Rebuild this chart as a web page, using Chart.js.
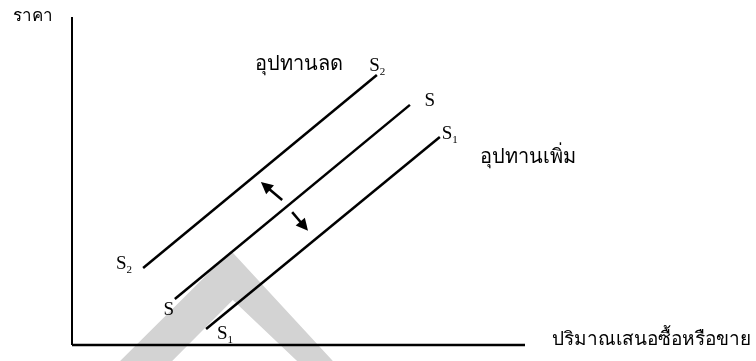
<!DOCTYPE html>
<html>
<head>
<meta charset="utf-8">
<script src="https://cdn.jsdelivr.net/npm/chart.js@4.4.1/dist/chart.umd.min.js"></script>
<style>
  html, body { margin: 0; padding: 0; background: #fff; }
  canvas { display: block; }
</style>
</head>
<body>
<canvas id="supplyChart" width="756" height="361"></canvas>
<script>
// supply curves (quantity, price) in chart units
const supplyDecrease = [{ x: 15.7, y: 23.5 }, { x: 67.3, y: 82.3 }]; // S2
const supplyBase = [{ x: 22.7, y: 14.0 }, { x: 74.6, y: 73.2 }];     // S
const supplyIncrease = [{ x: 29.6, y: 4.9 }, { x: 81.2, y: 63.4 }];  // S1

// axes
const priceAxis = [{ x: 0, y: 0 }, { x: 0, y: 100 }];
const quantityAxis = [{ x: 0, y: 0 }, { x: 100, y: 0 }];

// grey watermark shape behind the curves
const watermark = [
  { x: 10.6, y: -4.9 }, { x: 35.1, y: 28.7 }, { x: 57.6, y: -4.9 },
  { x: 49.7, y: -4.9 }, { x: 35.5, y: 13.7 }, { x: 22.1, y: -4.9 }
];

// shift arrows: [from, to]
const shiftArrows = [
  [{ x: 46.4, y: 44.2 }, { x: 41.7, y: 49.7 }],
  [{ x: 48.6, y: 40.5 }, { x: 52.1, y: 34.8 }]
];

// text labels
const axisTitles = [
  { text: 'ราคา', x: -13, y: 100, size: 17 },
  { text: 'ปริมาณเสนอซื้อหรือขาย', x: 106, y: 1.5, size: 19 }
];
const shiftTitles = [
  { text: 'อุปทานลด', x: 40.4, y: 85.4 },
  { text: 'อุปทานเพิ่ม', x: 90.1, y: 57 }
];
const curveNames = [
  { name: 'S', sub: '2', x: 65.6, y: 85.0 },
  { name: 'S', sub: '', x: 77.8, y: 74.3 },
  { name: 'S', sub: '1', x: 81.6, y: 64.3 },
  { name: 'S', sub: '2', x: 9.7, y: 24.6 },
  { name: 'S', sub: '', x: 20.2, y: 10.7 },
  { name: 'S', sub: '1', x: 32.0, y: 3.4 }
];

function lineSet(data, width, color, order) {
  return {
    data: data,
    borderColor: color,
    borderWidth: width,
    pointRadius: 0,
    fill: false,
    tension: 0,
    clip: false,
    order: order
  };
}

const labelPlugin = {
  id: 'labels',
  afterDatasetsDraw(chart) {
    const ctx = chart.ctx;
    const xs = chart.scales.x, ys = chart.scales.y;
    ctx.save();
    ctx.fillStyle = '#000';
    ctx.textBaseline = 'middle';
    ctx.textAlign = 'left';

    // arrows
    ctx.strokeStyle = '#000';
    ctx.lineWidth = 2.5;
    shiftArrows.forEach(([from, to]) => {
      const x1 = xs.getPixelForValue(from.x), y1 = ys.getPixelForValue(from.y);
      const x2 = xs.getPixelForValue(to.x), y2 = ys.getPixelForValue(to.y);
      const ang = Math.atan2(y2 - y1, x2 - x1);
      const head = 12, half = 6;
      ctx.beginPath();
      ctx.moveTo(x1, y1);
      ctx.lineTo(x2 - Math.cos(ang) * head * 0.8, y2 - Math.sin(ang) * head * 0.8);
      ctx.stroke();
      ctx.beginPath();
      ctx.moveTo(x2, y2);
      ctx.lineTo(x2 - Math.cos(ang) * head - Math.sin(ang) * half, y2 - Math.sin(ang) * head + Math.cos(ang) * half);
      ctx.lineTo(x2 - Math.cos(ang) * head + Math.sin(ang) * half, y2 - Math.sin(ang) * head - Math.cos(ang) * half);
      ctx.closePath();
      ctx.fill();
    });

    axisTitles.forEach(t => {
      ctx.font = t.size + 'px "DejaVu Sans", "Noto Sans", sans-serif';
      ctx.fillText(t.text, xs.getPixelForValue(t.x), ys.getPixelForValue(t.y));
    });

    ctx.font = '20px "Liberation Serif", serif';
    shiftTitles.forEach(t => {
      ctx.fillText(t.text, xs.getPixelForValue(t.x), ys.getPixelForValue(t.y));
    });

    curveNames.forEach(c => {
      const px = xs.getPixelForValue(c.x), py = ys.getPixelForValue(c.y);
      ctx.font = '19px "Liberation Serif", serif';
      ctx.fillText(c.name, px, py);
      if (c.sub) {
        const w = ctx.measureText(c.name).width;
        ctx.font = '11px "Liberation Serif", serif';
        ctx.fillText(c.sub, px + w, py + 6);
      }
    });
    ctx.restore();
  }
};

new Chart(document.getElementById('supplyChart').getContext('2d'), {
  type: 'line',
  data: {
    datasets: [
      Object.assign(lineSet(watermark, 0, 'rgba(0,0,0,0)', 10), {
        fill: 'shape',
        backgroundColor: '#d3d3d3'
      }),
      lineSet(priceAxis, 2, '#000', 1),
      lineSet(quantityAxis, 2.5, '#000', 1),
      lineSet(supplyDecrease, 2.5, '#000', 0),
      lineSet(supplyBase, 2.5, '#000', 0),
      lineSet(supplyIncrease, 2.5, '#000', 0)
    ]
  },
  options: {
    responsive: false,
    animation: false,
    devicePixelRatio: 1,
    layout: { padding: { left: 72, right: 231, top: 17, bottom: 0 } },
    scales: {
      x: { type: 'linear', min: 0, max: 100, display: false },
      y: { type: 'linear', min: -4.88, max: 100, display: false }
    },
    plugins: {
      legend: { display: false },
      tooltip: { enabled: false }
    }
  },
  plugins: [labelPlugin]
});
</script>
</body>
</html>
